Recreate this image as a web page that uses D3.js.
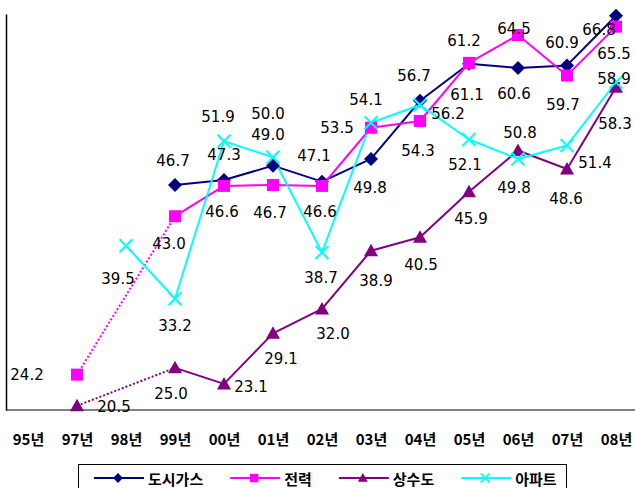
<!DOCTYPE html>
<html><head><meta charset="utf-8">
<script src="https://cdn.jsdelivr.net/npm/d3@7"></script>
<style>body{margin:0;background:#fff;overflow:hidden}</style>
</head><body><svg id="c" width="635" height="488"></svg>
<script>
// ---- data ----
const categories = ["95년","97년","98년","99년","00년","01년","02년","03년","04년","05년","06년","07년","08년"];
const seriesNames = ["도시가스","전력","상수도","아파트"];
const gasValues   = [null, null, null, 46.7, 47.3, 49.0, 47.1, 49.8, 56.7, 61.1, 60.6, 60.9, 66.8];
const powerValues = [null, 24.2, null, 43.0, 46.6, 46.7, 46.6, 53.5, 54.3, 61.2, 64.5, 59.7, 65.5];
const waterValues = [null, 20.5, null, 25.0, 23.1, 29.1, 32.0, 38.9, 40.5, 45.9, 50.8, 48.6, 58.3];
const aptValues   = [null, null, 39.5, 33.2, 51.9, 50.0, 38.7, 54.1, 56.2, 52.1, 49.8, 51.4, 58.9];

// ---- layout / style ----
const colors = ["#000080", "#FF00FF", "#800080", "#00FFFF"];
const markers = ["diamond", "square", "triangle", "x"];
// label offsets [dx, dy] relative to marker, per series per category
const labelOffsets = [
  [null,null,null,[-2,-24],[0,-25],[-5,-31],[-8,-26],[-1,29],[-6,-25],[-2,31],[-4,26],[-5,-22],[-17,14]],
  [null,[-50,0],null,[-6,28],[-2,26],[-3,28],[-2,26],[-34,0],[-2,30],[-5,-22],[-4,-6],[-4,29],[-2,27]],
  [null,[37,1],null,[-4,26],[27,3],[8,26],[11,25],[5,30],[1,28],[2,27],[2,-17],[-1,30],[-1,37]],
  [null,null,[-8,33],[0,27],[-6,-24],[-5,-43],[-1,26],[-5,-23],[28,9],[-4,25],[-4,29],[28,18],[-2,-3]]
];

const svg = d3.select("#c");
const x = d3.scalePoint().domain(categories).range([28, 616]);
const y = d3.scaleLinear().domain([20, 67]).range([410, 14]);

// axes
svg.append("g").attr("transform","translate(0,410)")
  .call(d3.axisBottom(x).tickSize(0).tickPadding(0))
  .call(g => g.select(".domain").remove())
  .call(g => g.selectAll("text").attr("dy", null).attr("y", 28)
     .attr("dominant-baseline","central")
     .style("font-family","'Noto Sans CJK KR', sans-serif")
     .style("font-size","15px").style("font-weight","bold").attr("fill","#000"));
svg.append("line").attr("x1",6).attr("x2",635).attr("y1",410).attr("y2",410)
  .attr("stroke","#808080").attr("stroke-width",2);
svg.append("g").attr("transform","translate(6,0)")
  .call(d3.axisLeft(y).tickValues([]).tickSizeOuter(0))
  .call(g => g.select(".domain").attr("stroke","#000").attr("stroke-width",1.5));

function markerPath(type) {
  switch(type) {
    case "diamond": return "M0,-7L7,0L0,7L-7,0Z";
    case "square": return "M-6,-6H6V6H-6Z";
    case "triangle": return "M0,-7L7,5.5L-7,5.5Z";
    case "x": return "M-6.5,-6.5L6.5,6.5M6.5,-6.5L-6.5,6.5";
  }
}
function drawMarker(g, type, color, cx, cy) {
  const p = g.append("path").attr("d", markerPath(type)).attr("transform", `translate(${cx},${cy})`);
  if (type === "x") p.attr("fill","none").attr("stroke",color).attr("stroke-width",2);
  else p.attr("fill",color);
}

const allSeries = [gasValues, powerValues, waterValues, aptValues];
const lineGen = d3.line().x(d => x(d.c)).y(d => y(d.v));

const linesG = svg.append("g");
const markersG = svg.append("g");
const labelsG = svg.append("g");

allSeries.forEach((vals, si) => {
  const pts = vals.map((v,i) => ({c: categories[i], i, v})).filter(d => d.v !== null);
  for (let k = 0; k < pts.length - 1; k++) {
    const a = pts[k], b = pts[k+1];
    const gap = b.i - a.i > 1;
    linesG.append("path").attr("d", lineGen([a,b]))
      .attr("fill","none").attr("stroke", colors[si]).attr("stroke-width", 2)
      .attr("stroke-dasharray", gap ? "2,2" : null);
  }
  pts.forEach(d => {
    drawMarker(markersG, markers[si], colors[si], x(d.c), y(d.v));
    const off = labelOffsets[si][d.i] || [0,-20];
    labelsG.append("text").attr("x", x(d.c) + off[0]).attr("y", y(d.v) + off[1])
      .attr("text-anchor","middle").attr("dominant-baseline","central")
      .style("font-family","'DejaVu Sans', sans-serif").style("font-size","15px")
      .attr("fill","#000").text(d.v.toFixed(1));
  });
});

// legend
const lg = svg.append("g");
lg.append("rect").attr("x",78.5).attr("y",464.5).attr("width",488).attr("height",40)
  .attr("fill","#fff").attr("stroke","#000").attr("stroke-width",1);
let lx = 94;
const ly = 478;
seriesNames.forEach((name, si) => {
  lg.append("line").attr("x1",lx).attr("x2",lx+50).attr("y1",ly).attr("y2",ly)
    .attr("stroke",colors[si]).attr("stroke-width",2);
  const mg = lg.append("g");
  const mp = mg.append("path").attr("d", markerPath(markers[si]))
    .attr("transform", `translate(${lx+24},${ly}) scale(0.7)`);
  if (markers[si] === "x") mp.attr("fill","none").attr("stroke",colors[si]).attr("stroke-width",2.5);
  else mp.attr("fill",colors[si]);
  const t = lg.append("text").attr("x", lx+54).attr("y", ly)
    .attr("dominant-baseline","central")
    .style("font-family","'Noto Sans CJK KR', sans-serif").style("font-size","15px").style("font-weight","bold")
    .attr("fill","#000").text(name);
  lx = lx + 54 + t.node().getComputedTextLength() + 27;
});
</script></body></html>
